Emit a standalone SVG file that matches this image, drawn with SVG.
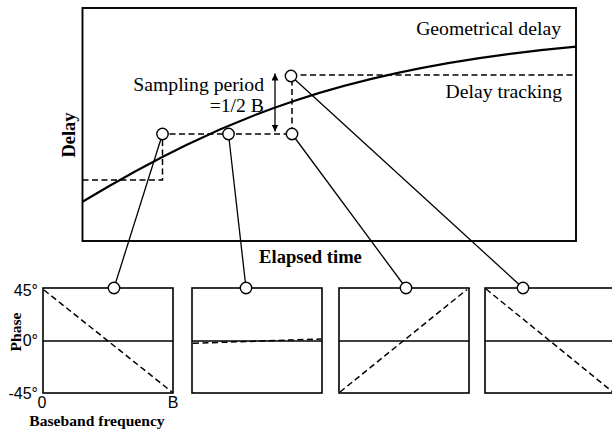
<svg xmlns="http://www.w3.org/2000/svg" width="612" height="432" viewBox="0 0 612 432">
<defs>
<style>
.box{fill:none;stroke:#000;stroke-width:1.9}
.pan{fill:none;stroke:#000;stroke-width:1.6}
.curve{fill:none;stroke:#000;stroke-width:2.2}
.dash{fill:none;stroke:#000;stroke-width:1.5;stroke-dasharray:6,3.5}
.conn{fill:none;stroke:#000;stroke-width:1.3}
.zero{stroke:#000;stroke-width:1.3}
.pt{fill:#fff;stroke:#000;stroke-width:1.4}
.serif{font-family:"Liberation Serif","Times New Roman",serif;fill:#000}
.big{font-size:19.7px}
.axis{font-weight:bold}
.sans{font-family:"Liberation Sans",Arial,sans-serif;fill:#000;font-size:16px}
</style>
<marker id="ah" viewBox="0 0 10 10" refX="10" refY="5" markerWidth="7" markerHeight="7" markerUnits="userSpaceOnUse" orient="auto-start-reverse">
<path d="M0,0 L10,5 L0,10 Z" fill="#000"/>
</marker>
</defs>
<rect width="612" height="432" fill="#fff"/>

<g id="main-plot">
<rect class="box" x="82.5" y="8" width="493.5" height="233"/>
<path class="curve" d="M82.5,201.7 C222.5,117.7 346,67.4 576,46.7"/>
<path class="dash" d="M82.5,180 H162.5 V134 H292 V75 H576"/>
<text class="serif big" x="561" y="35" text-anchor="end">Geometrical delay</text>
<text class="serif big" x="562" y="98" text-anchor="end">Delay tracking</text>
<text class="serif big" x="264" y="90.5" text-anchor="end">Sampling period</text>
<text class="serif big" x="264" y="111.5" text-anchor="end">=1/2 B</text>
<text class="serif axis" x="310.5" y="263" font-size="18.6" text-anchor="middle">Elapsed time</text>
<text class="serif axis" font-size="18.5" text-anchor="middle" transform="translate(75,135) rotate(-90)">Delay</text>
</g>

<g id="connectors">
<line class="conn" x1="275" y1="73.5" x2="275" y2="131.5" marker-start="url(#ah)" marker-end="url(#ah)"/>
<line class="conn" x1="162.5" y1="134" x2="114" y2="288"/>
<line class="conn" x1="228.5" y1="134" x2="246" y2="288"/>
<line class="conn" x1="292" y1="134" x2="406" y2="288"/>
<line class="conn" x1="291" y1="76" x2="523" y2="288"/>
</g>

<g id="sample-points">
<circle class="pt" cx="162.5" cy="134" r="5.7"/>
<circle class="pt" cx="228.5" cy="134" r="5.7"/>
<circle class="pt" cx="292" cy="134" r="5.7"/>
<circle class="pt" cx="291" cy="76" r="5.7"/>
</g>

<g id="panel1">
<rect class="pan" x="43" y="288" width="130" height="105"/>
<line class="zero" x1="43" y1="341" x2="173" y2="341"/>
<line class="dash" x1="44" y1="290" x2="172" y2="392"/>
<circle class="pt" cx="114" cy="288" r="5.7"/>
<text class="sans" x="38" y="296" text-anchor="end">45°</text>
<text class="sans" x="38" y="346" text-anchor="end">0°</text>
<text class="sans" x="38" y="399" text-anchor="end">-45°</text>
<text class="sans" x="42" y="408" text-anchor="middle">0</text>
<text class="sans" x="173" y="408" text-anchor="middle">B</text>
<text class="serif axis" x="97" y="426" font-size="15.6" text-anchor="middle">Baseband frequency</text>
<text class="serif axis" font-size="15.6" text-anchor="middle" transform="translate(21,332) rotate(-90)">Phase</text>
</g>

<g id="panel2">
<rect class="pan" x="192" y="288" width="130" height="105"/>
<line class="zero" x1="192" y1="341" x2="322" y2="341"/>
<line class="dash" x1="193" y1="343.3" x2="321" y2="339"/>
<circle class="pt" cx="246" cy="288" r="5.7"/>
</g>

<g id="panel3">
<rect class="pan" x="339" y="288" width="130" height="105"/>
<line class="zero" x1="339" y1="341" x2="469" y2="341"/>
<line class="dash" x1="340" y1="392" x2="467" y2="289.5"/>
<circle class="pt" cx="406" cy="288" r="5.7"/>
</g>

<g id="panel4">
<rect class="pan" x="485" y="288" width="130" height="105"/>
<line class="zero" x1="485" y1="341" x2="615" y2="341"/>
<line class="dash" x1="486" y1="289" x2="614" y2="393"/>
<circle class="pt" cx="523" cy="288" r="5.7"/>
</g>
</svg>
